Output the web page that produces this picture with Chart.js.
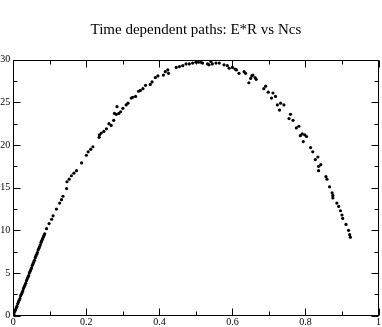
<!DOCTYPE html>
<html>
<head>
<meta charset="utf-8">
<script src="https://cdn.jsdelivr.net/npm/chart.js@4/dist/chart.umd.min.js"></script>
<style>
html,body{margin:0;padding:0;background:#fff;}
canvas{display:block;}
</style>
</head>
<body>
<canvas id="c" width="382" height="327"></canvas>
<script>
const titleText = "Time dependent paths: E*R vs Ncs";
const xTickValues = [0, 0.2, 0.4, 0.6, 0.8, 1];
const xTickLabels = ["0", "0.2", "0.4", "0.6", "0.8", "1"];
const xMinorTicks = [0.1, 0.3, 0.5, 0.7, 0.9];
const yTickValues = [0, 5, 10, 15, 20, 25, 30];
const yTickLabels = ["0", "5", "10", "15", "20", "25", "30"];
const yMinorTicks = [2.5, 7.5, 12.5, 17.5, 22.5, 27.5];

const ncs = [
0.000,0.002,0.004,0.006,0.008,0.010,0.012,0.014,0.016,0.018,
0.020,0.022,0.024,0.026,0.028,0.030,0.032,0.034,0.036,0.038,
0.040,0.042,0.044,0.046,0.048,0.050,0.052,0.054,0.056,0.058,
0.060,0.062,0.064,0.066,0.068,0.070,0.072,0.074,0.076,0.078,
0.080,0.082,0.084,0.086,
0.091,0.098,0.105,0.109,0.118,0.127,0.132,0.136,0.146,0.147,
0.153,0.159,0.166,0.173,0.187,0.200,0.205,0.212,0.218,0.235,
0.236,0.241,0.248,0.255,0.262,0.268,0.275,0.277,0.282,0.284,
0.289,0.294,0.300,0.309,0.314,0.323,0.327,0.335,0.343,0.348,
0.355,0.362,0.375,0.380,0.389,0.396,0.411,0.416,0.423,0.425,
0.446,0.455,0.464,0.473,0.482,0.491,0.500,0.507,0.514,0.518,
0.532,0.536,0.541,0.545,0.555,0.564,0.577,0.586,0.591,0.600,
0.607,0.611,0.618,0.632,0.636,0.645,0.650,0.653,0.656,0.662,
0.665,0.686,0.691,0.698,0.707,0.711,0.718,0.723,0.729,0.732,
0.741,0.755,0.759,0.766,0.775,0.782,0.786,0.791,0.794,0.798,
0.803,0.814,0.820,0.827,0.834,0.836,0.842,0.836,0.856,0.859,
0.866,0.873,0.875,0.875,0.886,0.891,0.896,0.900,0.902,0.911,
0.918,0.921,0.923
];
const er = [
0.0,0.2,0.5,0.7,0.9,1.1,1.4,1.6,1.8,2.0,
2.3,2.5,2.7,2.9,3.2,3.4,3.6,3.8,4.1,4.3,
4.5,4.7,5.0,5.2,5.4,5.6,5.9,6.1,6.3,6.5,
6.8,7.0,7.2,7.4,7.7,7.9,8.1,8.3,8.6,8.8,
9.0,9.2,9.4,9.6,
10.2,10.8,11.3,11.7,12.5,13.2,13.6,14.0,14.9,15.7,
16.0,16.4,16.7,17.0,17.9,18.8,19.2,19.5,19.8,20.9,
21.2,21.4,21.6,21.9,22.5,22.3,22.9,23.7,23.6,24.5,
23.7,23.9,24.3,24.7,24.9,25.5,25.6,25.7,26.3,26.4,
26.6,27.0,27.1,27.4,27.9,28.1,28.2,28.6,28.8,28.4,
29.1,29.2,29.3,29.5,29.5,29.6,29.7,29.7,29.7,29.6,
29.5,29.4,29.8,29.5,29.6,29.6,29.4,29.3,29.0,29.1,
28.9,28.8,28.4,28.6,28.4,27.3,27.8,28.1,28.2,27.9,
27.7,26.6,26.9,26.2,25.5,26.1,25.7,24.7,24.1,24.9,
24.7,23.1,23.6,22.9,22.0,22.2,21.1,21.3,20.4,21.2,
21.0,19.7,19.2,18.3,18.6,17.5,17.7,17.0,16.3,16.0,
15.1,14.4,14.1,13.8,13.2,12.8,12.3,11.8,11.4,10.7,
10.0,9.5,9.2
];

const points = ncs.map((x, i) => ({x: x, y: er[i]}));

const framePlugin = {
  id: 'frame',
  afterLayout(chart) {
    // centre the title over the plotting area, as in the reference
    const tb = chart.titleBlock;
    if (tb) {
      const a = chart.chartArea;
      const shift = (a.left + a.right) / 2 - (tb.left + tb.right) / 2;
      tb.left += shift; tb.right += shift;
    }
  },
  afterDraw(chart) {
    const ctx = chart.ctx;
    const a = chart.chartArea;
    const xs = chart.scales.x, ys = chart.scales.y;
    const L = Math.round(a.left) + 0.5, R = Math.round(a.right) - 0.5;
    const T = Math.round(a.top) + 0.5, B = Math.round(a.bottom) - 0.5;
    ctx.save();
    ctx.strokeStyle = '#000';
    ctx.lineWidth = 1;
    ctx.beginPath();
    const major = 7, minor = 4;
    function vt(v, len) {
      const px = Math.round(xs.getPixelForValue(v)) + 0.5;
      ctx.moveTo(px, B); ctx.lineTo(px, B - len);
      ctx.moveTo(px, T); ctx.lineTo(px, T + len);
    }
    function ht(v, len) {
      const py = Math.round(ys.getPixelForValue(v)) + 0.5;
      ctx.moveTo(L, py); ctx.lineTo(L + len, py);
      ctx.moveTo(R, py); ctx.lineTo(R - len, py);
    }
    xTickValues.forEach(v => vt(v, major));
    xMinorTicks.forEach(v => vt(v, minor));
    yTickValues.forEach(v => ht(v, major));
    yMinorTicks.forEach(v => ht(v, minor));
    ctx.stroke();
    ctx.strokeRect(L, T, R - L, B - T);
    ctx.restore();
  }
};

new Chart(document.getElementById('c'), {
  type: 'scatter',
  data: {
    datasets: [{
      data: points,
      pointRadius: 1.6,
      pointHoverRadius: 1.6,
      pointBackgroundColor: '#000',
      pointBorderWidth: 0,
      borderColor: '#000',
      showLine: false
    }]
  },
  options: {
    responsive: false,
    animation: false,
    devicePixelRatio: 1,
    layout: { padding: { left: 0, right: 1, top: 0, bottom: 0 } },
    plugins: {
      legend: { display: false },
      tooltip: { enabled: false },
      title: {
        display: true,
        text: titleText,
        color: '#000',
        font: { family: 'Liberation Serif', size: 15, weight: 'normal', lineHeight: 1.2 },
        padding: { top: 21, bottom: 20.7 }
      }
    },
    scales: {
      x: {
        type: 'linear',
        min: 0, max: 1,
        afterBuildTicks(scale) { scale.ticks = xTickValues.map(v => ({value: v})); },
        afterFit(scale) { scale.height = 11.3; },
        grid: { display: false, drawTicks: false },
        border: { display: false },
        ticks: {
          padding: 1,
          color: '#000',
          maxRotation: 0,
          autoSkip: false,
          font: { family: 'Liberation Serif', size: 10 },
          callback: (v, i) => xTickLabels[i]
        }
      },
      y: {
        type: 'linear',
        min: 0, max: 30,
        afterBuildTicks(scale) { scale.ticks = yTickValues.map(v => ({value: v})); },
        afterFit(scale) { scale.width = 13.3; },
        grid: { display: false, drawTicks: false },
        border: { display: false },
        ticks: {
          padding: 3,
          color: '#000',
          autoSkip: false,
          font: { family: 'Liberation Serif', size: 10 },
          callback: (v, i) => yTickLabels[i]
        }
      }
    }
  },
  plugins: [framePlugin]
});
</script>
</body>
</html>
